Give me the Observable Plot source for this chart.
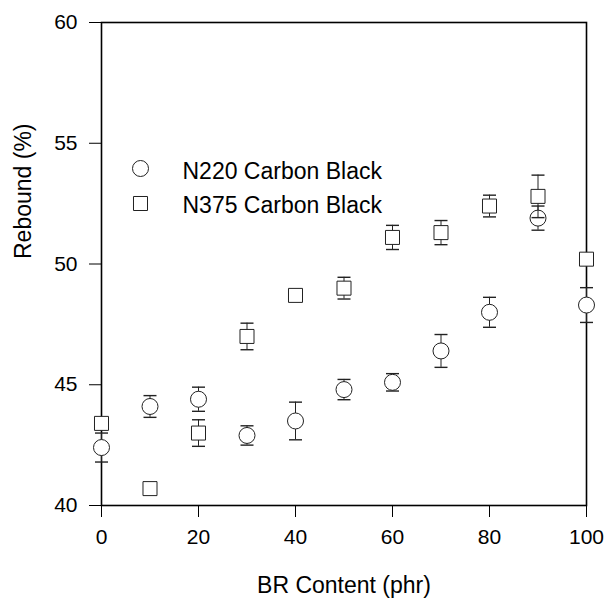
<!DOCTYPE html>
<html>
<head>
<meta charset="utf-8">
<script src="https://cdn.jsdelivr.net/npm/d3@7"></script>
<script src="https://cdn.jsdelivr.net/npm/@observablehq/plot@0.6"></script>
<style>
  html, body { margin: 0; padding: 0; background: #fff; }
  #chart svg { display: block; }
</style>
</head>
<body>
<div id="chart"></div>
<script>
// BR content (phr)
const brContent = [0, 10, 20, 30, 40, 50, 60, 70, 80, 90, 100];
// N220 Carbon Black rebound (%) and error
const n220Mean = [42.4, 44.1, 44.4, 42.9, 43.5, 44.8, 45.1, 46.4, 48.0, 51.9, 48.3];
const n220Err  = [0.6, 0.45, 0.5, 0.4, 0.78, 0.42, 0.36, 0.68, 0.62, 0.5, 0.72];
// N375 Carbon Black rebound (%) and error
const n375Mean = [43.4, 40.7, 43.0, 47.0, 48.7, 49.0, 51.1, 51.3, 52.4, 52.8, 50.2];
const n375Err  = [0.2, 0.15, 0.55, 0.55, 0.2, 0.45, 0.5, 0.5, 0.45, 0.88, 0.2];
const xTicks = [0, 20, 40, 60, 80, 100];
const yTicks = [40, 45, 50, 55, 60];
const seriesNames = ["N220 Carbon Black", "N375 Carbon Black"];

const n220 = brContent.map((x, i) => ({x, y: n220Mean[i], lo: n220Mean[i] - n220Err[i], hi: n220Mean[i] + n220Err[i]}));
const n375 = brContent.map((x, i) => ({x, y: n375Mean[i], lo: n375Mean[i] - n375Err[i], hi: n375Mean[i] + n375Err[i]}));

const cap = { draw(context) { const w = 6.5; context.moveTo(-w, 0); context.lineTo(w, 0); } };

function errorMarks(data) {
  return [
    Plot.ruleX(data, {x: "x", y1: "lo", y2: "hi", stroke: "#222", strokeWidth: 1}),
    Plot.dot(data, {x: "x", y: "hi", symbol: cap, stroke: "#222", strokeWidth: 1.4, fill: "none", r: 5}),
    Plot.dot(data, {x: "x", y: "lo", symbol: cap, stroke: "#222", strokeWidth: 1.4, fill: "none", r: 5})
  ];
}

const chart = Plot.plot({
  width: 608,
  height: 599,
  marginLeft: 101,
  marginRight: 22,
  marginTop: 22,
  marginBottom: 94,
  style: {fontFamily: "'Liberation Sans', Arial, sans-serif", fontSize: "21px", color: "#000", background: "#fff"},
  x: {domain: [0, 100], ticks: xTicks, tickSize: 12, tickPadding: 12, label: null},
  y: {domain: [40, 60], ticks: yTicks, tickSize: 12, tickPadding: 12, label: null},
  marks: [
    Plot.frame({stroke: "#000", strokeWidth: 1.6}),
    Plot.axisX({ticks: xTicks, tickSize: 12, tickPadding: 12, label: null, fontSize: 21}),
    Plot.axisY({ticks: yTicks, tickSize: 12, tickPadding: 12, label: null, fontSize: 21}),
    ...errorMarks(n220),
    Plot.dot(n220, {x: "x", y: "y", symbol: "circle", r: 8, fill: "white", stroke: "#222", strokeWidth: 1}),
    ...errorMarks(n375),
    Plot.dot(n375, {x: "x", y: "y", symbol: "square", r: 7.9, fill: "white", stroke: "#222", strokeWidth: 1}),
    // legend
    Plot.dot([seriesNames[0]], {frameAnchor: "top-left", dx: 39, dy: 146, symbol: "circle", r: 8, fill: "white", stroke: "#222", strokeWidth: 1}),
    Plot.dot([seriesNames[1]], {frameAnchor: "top-left", dx: 39, dy: 181, symbol: "square", r: 7.9, fill: "white", stroke: "#222", strokeWidth: 1}),
    Plot.text([seriesNames[0]], {text: d => d, frameAnchor: "top-left", dx: 81, dy: 149, textAnchor: "start", lineAnchor: "middle", fontSize: 23, fill: "#000"}),
    Plot.text([seriesNames[1]], {text: d => d, frameAnchor: "top-left", dx: 81, dy: 183, textAnchor: "start", lineAnchor: "middle", fontSize: 23, fill: "#000"}),
    // axis titles
    Plot.text(["BR Content (phr)"], {text: d => d, frameAnchor: "bottom", dy: 80, lineAnchor: "middle", fontSize: 23, fill: "#000"}),
    Plot.text(["Rebound (%)"], {text: d => d, frameAnchor: "left", dx: -78, dy: -5, rotate: -90, lineAnchor: "middle", fontSize: 23, fill: "#000"})
  ]
});
document.getElementById("chart").appendChild(chart);
</script>
</body>
</html>
